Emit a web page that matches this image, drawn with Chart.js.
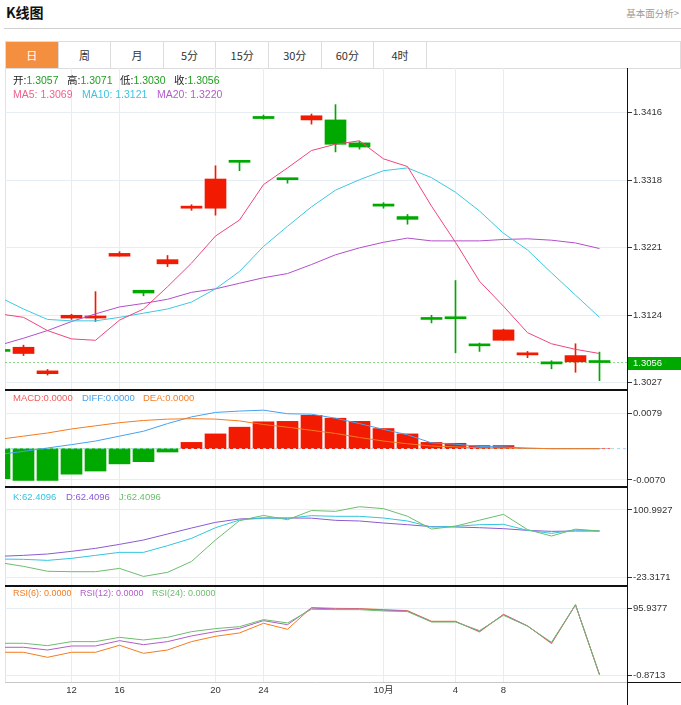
<!DOCTYPE html>
<html>
<head>
<meta charset="utf-8">
<title>K线图</title>
<script src="https://cdn.jsdelivr.net/npm/chart.js@4.4.1/dist/chart.umd.min.js"></script>
<style>
  body { margin: 0; background: #fff; font-family: "Liberation Sans", "Noto Sans CJK SC", sans-serif; }
  #page { position: relative; width: 681px; height: 705px; overflow: hidden; }
  .title { position: absolute; left: 6px; top: 3px; font: bold 14px/18px "Noto Sans CJK SC", sans-serif; color: #111; }
  .more { position: absolute; right: 2px; top: 6px; font: 9.5px/14px "Noto Sans CJK SC", sans-serif; color: #999; }
  .rule { position: absolute; left: 4px; right: 0; top: 28px; height: 1px; background: #cfcfcf; }
  .tabs { position: absolute; left: 5px; top: 41px; width: 676px; height: 28px; box-sizing: border-box;
          border: 1px solid #ddd; display: flex; }
  .tabs span { width: 52.6px; box-sizing: border-box; border-right: 1px solid #ddd; text-align: center;
               font: 11px/26px "Noto Sans CJK SC", sans-serif; color: #333; }
  .tabs span.on { background: #f38f3f; color: #fff; }
  #box { position: absolute; left: 5px; top: 68px; width: 676px; height: 637px; }
  .leftline { position: absolute; left: 5px; top: 68px; width: 1px; height: 614px; background: #dde3e8; }
  .lg { position: absolute; white-space: nowrap; line-height: 14px; }
</style>
</head>
<body>
<div id="page">
  <div class="title">K线图</div>
  <div class="more">基本面分析&gt;</div>
  <div class="rule"></div>
  <div class="tabs">
    <span class="on">日</span><span>周</span><span>月</span><span>5分</span><span>15分</span><span>30分</span><span>60分</span><span>4时</span>
  </div>
  <div class="leftline"></div>
  <div id="box"><canvas id="kline"></canvas></div>
</div>

<script>
// x axis labels (candle index -> label)
const tickIdx = [3, 5, 9, 11, 16, 19, 21];
const tickText = ["12", "16", "20", "24", "10月", "4", "8"];

// candles
const open  = [1.3074, 1.3069, 1.3040, 1.3120, 1.3120, 1.3209, 1.3160, 1.3198, 1.3278, 1.3278, 1.3346, 1.3410, 1.3321,
               1.3405, 1.3405, 1.3372, 1.3284, 1.3266, 1.3120, 1.3120, 1.3082, 1.3088, 1.3067, 1.3057, 1.3057, 1.3057];
const high  = [1.3076, 1.3081, 1.3046, 1.31255, 1.3158, 1.32155, 1.3160, 1.3210, 1.3283, 1.3339, 1.3346, 1.3412, 1.3321,
               1.34135, 1.3427, 1.3374, 1.3286, 1.3269, 1.3124, 1.3174, 1.3084, 1.3104, 1.3072, 1.30586, 1.3083, 1.3071];
const low   = [1.3070, 1.3066, 1.3038, 1.3118, 1.3115, 1.3209, 1.3152, 1.3194, 1.3275, 1.3268, 1.3332, 1.3406, 1.3314,
               1.3399, 1.3359, 1.3363, 1.3278, 1.3255, 1.3113, 1.3070, 1.3072, 1.3088, 1.3063, 1.3047, 1.3042, 1.3030];
const close = [1.3072, 1.3078, 1.3044, 1.3124, 1.3123, 1.3213, 1.3156, 1.3204, 1.3281, 1.3320, 1.3344, 1.3407, 1.3319,
               1.3411, 1.3370, 1.3366, 1.3281, 1.3262, 1.3118, 1.3119, 1.3080, 1.3103, 1.3070, 1.3054, 1.3066, 1.3056];

// moving averages
const ma5  = [1.3126, 1.3121, 1.3102, 1.3090, 1.3088, 1.3117, 1.3133, 1.3165, 1.3199, 1.3238, 1.3261, 1.3312, 1.3336,
              1.3361, 1.3370, 1.3375, 1.3349, 1.3338, 1.3281, 1.3229, 1.3173, 1.3137, 1.3099, 1.3083, 1.3075, 1.3069];
const ma10 = [1.3150, 1.3133, 1.3118, 1.3116, 1.3116, 1.3121, 1.3127, 1.3133, 1.3143, 1.3162, 1.3187, 1.3223, 1.3252,
              1.3280, 1.3304, 1.3319, 1.3332, 1.3336, 1.3322, 1.3301, 1.3274, 1.3242, 1.3218, 1.3185, 1.3153, 1.3121];
const ma20 = [1.3081, 1.3091, 1.3102, 1.3115, 1.3126, 1.3136, 1.3141, 1.3147, 1.3157, 1.3162, 1.3170, 1.3178, 1.3184,
              1.3197, 1.3211, 1.3221, 1.3229, 1.3235, 1.3231, 1.3231, 1.3231, 1.3233, 1.3234, 1.3232, 1.3228, 1.3220];

// MACD
const macd = [-0.0067, -0.0071, -0.0071, -0.0057, -0.0050, -0.0034, -0.0029, -0.00075, 0.0014, 0.0033, 0.0048, 0.0060, 0.0061,
              0.00745, 0.0068, 0.0061, 0.0045, 0.0033, 0.0014, 0.0012, 0.0007, 0.0007, 0, 0, 0, 0];
const diff = [-0.0013, -0.0006, 0.00015, 0.0009, 0.0017, 0.0028, 0.0039, 0.0056, 0.0071, 0.0081, 0.0084, 0.0086, 0.0078,
              0.0077, 0.0068, 0.0056, 0.0043, 0.0031, 0.0013, 0.0010, 0.0005, 0.0004, 0.0001, 0, 0, 0];
const dea  = [0.0021, 0.0028, 0.0035, 0.0044, 0.0051, 0.0058, 0.0063, 0.0066, 0.0067, 0.0066, 0.0062, 0.0054, 0.0048,
              0.0041, 0.0034, 0.0025, 0.0017, 0.0011, 0.0006, 0.0004, 0.0002, 0.00015, 0.0001, 0, 0, 0];

// KDJ
const kVal = [11, 10.4, 8.5, 12.2, 17.7, 23.2, 23.2, 35.5, 48.9, 68.5, 82.6, 86.3, 85.7,
              90.6, 89.4, 89.4, 86.3, 80.8, 69.8, 71, 74, 74.7, 63.6, 58.1, 64.3, 62.4096];
const dVal = [16, 17.7, 20.2, 25.1, 30.6, 37.9, 45.9, 56.9, 67.9, 78.3, 84.5, 86.3, 86.3,
              86, 82, 80.8, 77.1, 74, 70.4, 69.8, 68.5, 66.7, 63.6, 61.8, 62.4, 62.4096];
const jVal = [4.5, -2.5, -11.5, -12.3, -12.3, -6.2, -21, -13.5, 6.5, 45.9, 81.5, 91, 83.2,
              100, 98.5, 107, 103.5, 89.5, 66, 71.3, 82.3, 93, 65, 53.2, 65.8, 62.4096];

// RSI
const rsi6  = [32.4, 32.4, 25.1, 32.4, 32.4, 42.5, 30.9, 35.7, 47.8, 55.5, 60.3, 74.3, 65.6,
               97.0, 95.9, 95.5, 94.0, 92.6, 77.2, 77.2, 61.7, 87.3, 70.6, 44.9, 101, 0];
const rsi12 = [39.6, 39.6, 35.7, 41.5, 41.5, 49.2, 43.4, 47.8, 56.0, 62.2, 67.0, 78.1, 72.3,
               96.2, 95.0, 95.0, 93.3, 92.0, 76.7, 76.7, 62.7, 86.8, 70.4, 45.9, 101, 0];
const rsi24 = [45.4, 45.4, 42.0, 47.8, 47.8, 54.0, 50.2, 54.0, 62.2, 66.6, 69.4, 79.6, 74.8,
               94.5, 94.0, 94.0, 92.1, 91.1, 76.2, 76.2, 63.7, 85.8, 70.2, 46.8, 101, 0];

// right axis tick values
const priceTicks = [1.3027, 1.3124, 1.3221, 1.3318, 1.3416];
const macdTicks = [-0.0070, 0.0079];
const kdjTicks = [-23.3171, 100.9927];
const rsiTicks = [-0.8713, 95.9377];

const RED = "#f21a00";
const GREEN = "#00a900";
const FONT = "'Liberation Sans', 'Noto Sans CJK SC', sans-serif";
const last = close.length - 1;
const viewFrom = 0.229, viewTo = 26.146;   // visible part of the index axis

const pts = arr => arr.map((v, i) => ({ x: i, y: v }));
const candleColor = close.map((c, i) => (c >= open[i] ? RED : GREEN));

function line(data, color, axis, order) {
  return { type: "line", data: pts(data), yAxisID: axis, borderColor: color, borderWidth: 1,
           pointRadius: 0, tension: 0, fill: false, order: order };
}

function refLine(value, color, axis, dash, from, order) {
  return { type: "line", data: [{ x: from, y: value }, { x: viewTo, y: value }], yAxisID: axis,
           borderColor: color, borderWidth: 1, borderDash: dash, pointRadius: 0, fill: false, order: order };
}

function yAxis(min, max, weight, ticks) {
  return {
    type: "linear", position: "right", stack: "panels", stackWeight: weight,
    min: min, max: max, bounds: "data", offset: false,
    grid: { color: "#e6edf3", tickColor: "#333", tickLength: 5 },
    border: { display: true, color: "#222" },
    ticks: { color: "#333", padding: 1, font: { size: 9.5, family: FONT }, callback: v => v.toFixed(4) },
    afterBuildTicks: ax => { ax.ticks = ticks.map(v => ({ value: v })); },
    afterFit: ax => { ax.width = 54; ax.paddingTop = 0; ax.paddingBottom = 0; }
  };
}

const frame = {
  id: "frame",
  afterDraw(chart) {
    const { ctx, chartArea: a, width, height } = chart;
    ctx.save();
    ctx.strokeStyle = "#111";
    ctx.lineWidth = 2;
    ctx.beginPath();
    ["macd", "kdj", "rsi"].forEach(id => {
      const y = Math.round(chart.scales[id].top);
      ctx.moveTo(a.left, y);
      ctx.lineTo(a.right, y);
    });
    ctx.stroke();
    ctx.lineWidth = 1;
    ctx.beginPath();
    const xr = Math.round(a.right) + 0.5;
    ctx.moveTo(xr, a.top);
    ctx.lineTo(xr, height);
    const yb = Math.round(a.bottom) + 0.5;
    ctx.moveTo(a.right, yb);
    ctx.lineTo(width, yb);
    ctx.stroke();

    // last price tag on the axis
    const py = chart.scales.y.getPixelForValue(close[last]);
    ctx.fillStyle = GREEN;
    ctx.fillRect(a.right + 1, Math.round(py) - 6, width - a.right - 1, 13);
    ctx.fillStyle = "#fff";
    ctx.font = "9.5px " + FONT;
    ctx.textBaseline = "middle";
    ctx.fillText(close[last].toFixed(4), a.right + 6, py + 0.5);
    ctx.restore();
  }
};

new Chart(document.getElementById("kline"), {
  type: "bar",
  data: {
    datasets: [
      refLine(close[last], "#86d286", "y", [2, 2], viewFrom, 20),
      { type: "bar", data: high.map((h, i) => ({ x: i, y: [low[i], h] })), yAxisID: "y",
        backgroundColor: candleColor, barThickness: 1, maxBarThickness: 1, grouped: false, order: 12 },
      { type: "bar", data: open.map((o, i) => ({ x: i, y: [o, close[i]] })), yAxisID: "y",
        backgroundColor: candleColor, barThickness: 21, maxBarThickness: 21, minBarLength: 2, grouped: false, order: 11 },
      line(ma5, "#f0457e", "y", 5),
      line(ma10, "#3ec8e2", "y", 5),
      line(ma20, "#b24fcb", "y", 5),

      { type: "bar", data: pts(macd), yAxisID: "macd", backgroundColor: macd.map(v => (v >= 0 ? RED : GREEN)),
        barThickness: 21, maxBarThickness: 21, grouped: false, order: 12 },
      refLine(diff[last], "#9ad8f2", "macd", [3, 3], viewFrom, 6),
      line(diff, "#47a2ef", "macd", 4),
      line(dea, "#f47b20", "macd", 3),

      line(dVal, "#8b5bd1", "kdj", 4),
      line(kVal, "#33c5e0", "kdj", 3),
      line(jVal, "#6dbd6d", "kdj", 2),

      line(rsi6, "#f47b20", "rsi", 4),
      line(rsi12, "#b35cc9", "rsi", 3),
      line(rsi24, "#6dbd6d", "rsi", 2)
    ]
  },
  options: {
    responsive: true,
    maintainAspectRatio: false,
    animation: false,
    events: [],
    layout: { padding: 0 },
    plugins: { legend: { display: false }, tooltip: { enabled: false } },
    scales: {
      x: {
        type: "linear", min: viewFrom, max: viewTo, bounds: "data", offset: false,
        grid: { color: "#e6edf3", drawTicks: false, offset: false },
        border: { display: true, color: "#c8c8c8" },
        ticks: { color: "#333", padding: 3, autoSkip: false, maxRotation: 0, font: { size: 9.5, family: FONT },
                 callback: v => tickText[tickIdx.indexOf(v)] },
        afterBuildTicks: ax => { ax.ticks = tickIdx.map(v => ({ value: v })); },
        afterFit: ax => { ax.height = 23; ax.paddingLeft = 0; ax.paddingRight = 0; }
      },
      y: yAxis(1.30165, 1.34797, 322, priceTicks),
      macd: yAxis(-0.008565, 0.013106, 97, macdTicks),
      kdj: yAxis(-38.56, 143.225, 99, kdjTicks),
      rsi: yAxis(-10.55, 128.16, 96, rsiTicks)
    }
  },
  plugins: [frame]
});

// indicator legends
const page = document.getElementById("page");
function tag(left, top, size, parts) {
  const d = document.createElement("div");
  d.className = "lg";
  d.style.left = left + "px";
  d.style.top = top + "px";
  d.style.fontSize = size + "px";
  parts.forEach(([text, color]) => {
    const s = document.createElement("span");
    s.textContent = text;
    s.style.color = color;
    d.appendChild(s);
  });
  page.appendChild(d);
}
const f4 = arr => arr[last].toFixed(4);
const VAL = "#1e9e1e";
tag(13, 73, 10.5, [["开:", "#222"], [f4(open), VAL]]);
tag(67, 73, 10.5, [["高:", "#222"], [f4(high), VAL]]);
tag(120, 73, 10.5, [["低:", "#222"], [f4(low), VAL]]);
tag(174, 73, 10.5, [["收:", "#222"], [f4(close), VAL]]);
tag(13, 87, 10.5, [["MA5: " + f4(ma5), "#f0608c"]]);
tag(82, 87, 10.5, [["MA10: " + f4(ma10), "#3ec3e0"]]);
tag(157, 87, 10.5, [["MA20: " + f4(ma20), "#b45ccb"]]);
tag(13, 391, 9.5, [["MACD:" + f4(macd), "#f05a5a"]]);
tag(82, 391, 9.5, [["DIFF:" + f4(diff), "#47a2ef"]]);
tag(143, 391, 9.5, [["DEA:" + f4(dea), "#f47b20"]]);
tag(13, 490, 9.5, [["K:" + f4(kVal), "#33c5e0"]]);
tag(66, 490, 9.5, [["D:" + f4(dVal), "#8b5bd1"]]);
tag(119, 490, 9.5, [["J:" + f4(jVal), "#6dbd6d"]]);
tag(13, 586, 9, [["RSI(6): " + f4(rsi6), "#f47b20"]]);
tag(80, 586, 9, [["RSI(12): " + f4(rsi12), "#b35cc9"]]);
tag(152, 586, 9, [["RSI(24): " + f4(rsi24), "#6dbd6d"]]);
</script>
</body>
</html>
